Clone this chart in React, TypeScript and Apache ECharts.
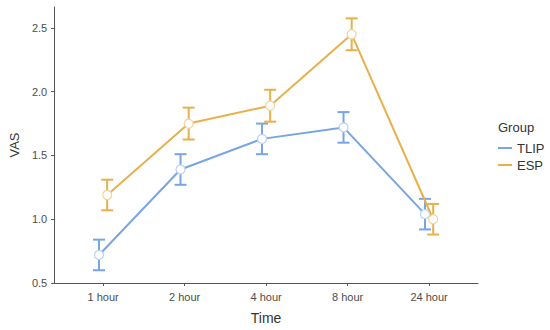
import React, { useEffect, useRef } from "react";
import * as echarts from "echarts";

const categories = ["1 hour", "2 hour", "4 hour", "8 hour", "24 hour"];
const tlipMean = [0.72, 1.39, 1.63, 1.72, 1.04];
const tlipSe = [0.12, 0.12, 0.12, 0.12, 0.12];
const espMean = [1.19, 1.75, 1.89, 2.45, 1.0];
const espSe = [0.12, 0.125, 0.125, 0.125, 0.12];
const yTicks = [0.5, 1.0, 1.5, 2.0, 2.5];
const groups = ["TLIP", "ESP"];

const BLUE = "#78A5E3";
const ORANGE = "#E7B04B";
const BLUE_LIGHT = "#BCD2F1";
const ORANGE_LIGHT = "#F1D59F";
const FONT = "Liberation Sans, Arial, sans-serif";

export default function App() {
  const ref = useRef<HTMLDivElement>(null);
  useEffect(() => {
    const chart = echarts.init(ref.current!, null, { renderer: "svg" });
    const xPos = categories.map((_, i) => i + 1);
    const dodge = 0.05;
    const mk = (means: number[], off: number) => means.map((m, i) => [xPos[i] + off, m]);
    const mkErr = (means: number[], se: number[], off: number) =>
      means.map((m, i) => [xPos[i] + off, m - se[i], m + se[i]]);

    const errSeries = (name: string, data: number[][], color: string) => ({
      type: "custom",
      name,
      z: 2,
      renderItem: (params: any, api: any) => {
        const x = api.value(0);
        const lo = api.coord([x, api.value(1)]);
        const hi = api.coord([x, api.value(2)]);
        const w = 6;
        const style = { stroke: color, lineWidth: 2 };
        return {
          type: "group",
          children: [
            { type: "line", shape: { x1: lo[0], y1: lo[1], x2: hi[0], y2: hi[1] }, style },
            { type: "line", shape: { x1: lo[0] - w, y1: lo[1], x2: lo[0] + w, y2: lo[1] }, style },
            { type: "line", shape: { x1: hi[0] - w, y1: hi[1], x2: hi[0] + w, y2: hi[1] }, style },
          ],
        };
      },
      encode: { x: 0, y: [1, 2] },
      data,
    });

    const lineSeries = (name: string, data: number[][], color: string, light: string) => ({
      type: "line",
      name,
      z: 3,
      data,
      symbol: "circle",
      symbolSize: 9,
      lineStyle: { color, width: 2 },
      itemStyle: { color: "#ffffff", borderColor: light, borderWidth: 1.2 },
      emphasis: { disabled: true },
    });

    chart.setOption({
      animation: false,
      textStyle: { fontFamily: FONT },
      grid: { left: 45, right: 72, top: 7, bottom: 44 },
      xAxis: {
        type: "value",
        min: 0.4,
        max: 5.6,
        name: "Time",
        nameLocation: "middle",
        nameGap: 28,
        nameTextStyle: { fontSize: 14, color: "#333", fontFamily: FONT },
        axisLine: { show: true, lineStyle: { color: "#555", width: 1 } },
        axisTick: { show: true, length: 3, customValues: xPos, lineStyle: { color: "#555" } },
        axisLabel: {
          customValues: xPos,
          margin: 8,
          fontSize: 11,
          color: "#4D4D4D",
          formatter: (v: number) => categories[Math.round(v) - 1] ?? "",
        },
        splitLine: { show: false },
      },
      yAxis: {
        type: "value",
        min: 0.5,
        max: 2.664,
        name: "VAS",
        nameLocation: "middle",
        nameGap: 31,
        nameTextStyle: { fontSize: 13, color: "#333", fontFamily: FONT },
        axisLine: { show: true, lineStyle: { color: "#555", width: 1 } },
        axisTick: { show: true, length: 3, customValues: yTicks, lineStyle: { color: "#555" } },
        axisLabel: {
          customValues: yTicks,
          margin: 7,
          fontSize: 11,
          color: "#4D4D4D",
          formatter: (v: number) => v.toFixed(1),
        },
        splitLine: { show: false },
      },
      legend: {
        orient: "vertical",
        left: 498,
        top: 141,
        padding: 0,
        itemWidth: 14,
        itemHeight: 2,
        itemGap: 3,
        icon: "rect",
        textStyle: { fontSize: 13, color: "#333", lineHeight: 14, fontFamily: FONT },
        data: [
          { name: groups[0], itemStyle: { color: BLUE } },
          { name: groups[1], itemStyle: { color: ORANGE } },
        ],
      },
      graphic: [
        {
          type: "text",
          left: 498,
          top: 121,
          style: { text: "Group", fontSize: 13, fill: "#333", fontFamily: FONT },
        },
      ],
      series: [
        errSeries(groups[0], mkErr(tlipMean, tlipSe, -dodge), BLUE),
        errSeries(groups[1], mkErr(espMean, espSe, dodge), ORANGE),
        lineSeries(groups[0], mk(tlipMean, -dodge), BLUE, BLUE_LIGHT),
        lineSeries(groups[1], mk(espMean, dodge), ORANGE, ORANGE_LIGHT),
      ],
    });
    return () => chart.dispose();
  }, []);
  return <div ref={ref} style={{ width: 550, height: 330, position: "absolute", left: 0, top: 0, background: "#fff" }} />;
}
